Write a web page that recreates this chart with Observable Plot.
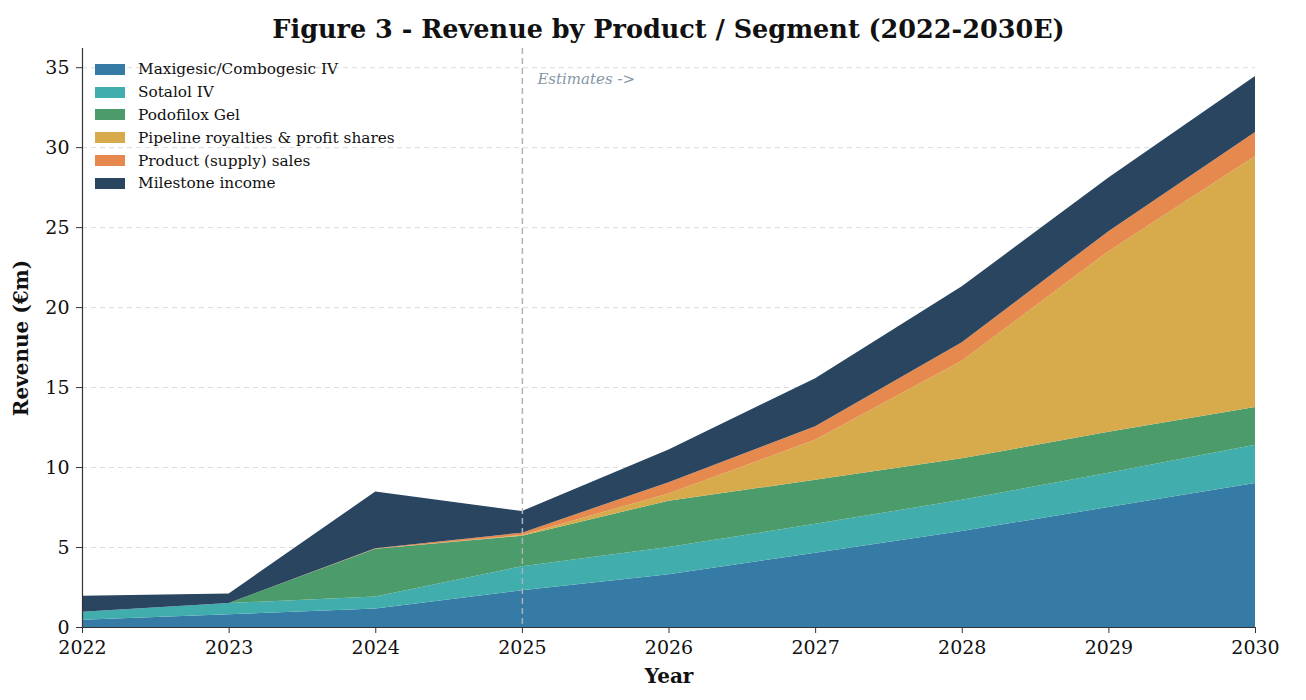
<!DOCTYPE html>
<html>
<head>
<meta charset="utf-8">
<script src="https://cdn.jsdelivr.net/npm/d3@7"></script>
<script src="https://cdn.jsdelivr.net/npm/@observablehq/plot@0.6"></script>
<style>
  html, body { margin: 0; padding: 0; background: #fff; }
  body { width: 1306px; height: 700px; position: relative; font-family: "DejaVu Serif", serif; overflow: hidden; }
  #title { height: 44px; box-sizing: border-box; padding-top: 14px; padding-left: 31px; text-align: center; font-size: 25.5px; line-height: 30px; font-weight: bold; color: #111; }
  #legend { position: absolute; left: 95px; top: 58px; font-size: 15.3px; color: #111; }
  #legend .row { height: 22.8px; display: flex; align-items: center; }
  #legend .sw { width: 30px; height: 11px; margin-right: 13px; }
  svg [aria-label="y-axis label"] text, svg [aria-label="x-axis label"] text { font-weight: bold; font-size: 20px; }
</style>
</head>
<body>
<div id="title">Figure 3 - Revenue by Product / Segment (2022-2030E)</div>
<div id="chart"></div>
<div id="legend"></div>
<script>
const years = [2022, 2023, 2024, 2025, 2026, 2027, 2028, 2029, 2030];
const seriesNames = ["Maxigesic/Combogesic IV", "Sotalol IV", "Podofilox Gel", "Pipeline royalties & profit shares", "Product (supply) sales", "Milestone income"];
const seriesColors = ["#367aa6", "#41aead", "#4c9b6b", "#d7ab4c", "#e5894e", "#2a4560"];
const maxigesic = [0.45, 0.8, 1.15, 2.3, 3.3, 4.65, 6.0, 7.5, 9.0];
const sotalol   = [0.5, 0.7, 0.75, 1.5, 1.7, 1.8, 1.95, 2.15, 2.4];
const podofilox = [0, 0, 3.0, 1.9, 2.9, 2.75, 2.6, 2.55, 2.35];
const pipeline  = [0, 0, 0, 0.05, 0.45, 2.5, 6.1, 11.3, 15.7];
const product   = [0, 0, 0.02, 0.15, 0.7, 0.85, 1.15, 1.25, 1.5];
const milestone = [1.0, 0.6, 3.55, 1.35, 2.05, 3.0, 3.5, 3.35, 3.5];
const yTicks = [0, 5, 10, 15, 20, 25, 30, 35];
const estimateYear = 2025;
const annotation = [{x: 2025, y: 34.3, text: "Estimates ->"}];

const seriesValues = [maxigesic, sotalol, podofilox, pipeline, product, milestone];
const data = [];
seriesNames.forEach((name, i) => {
  years.forEach((yr, j) => data.push({year: yr, series: name, value: seriesValues[i][j]}));
});

const chart = Plot.plot({
  width: 1306,
  height: 656,
  marginLeft: 82,
  marginRight: 51,
  marginTop: 4,
  marginBottom: 73,
  style: {fontFamily: "DejaVu Serif", fontSize: "19px", color: "#111", background: "#fff"},
  x: {domain: [2022, 2030]},
  y: {domain: [0, 36.2]},
  color: {domain: seriesNames, range: seriesColors},
  marks: [
    Plot.ruleY(yTicks.filter(d => d > 0), {stroke: "#dcdcdc", strokeWidth: 1, strokeDasharray: "5,4"}),
    Plot.areaY(data, {x: "year", y: "value", fill: "series", order: seriesNames}),
    Plot.ruleX([estimateYear], {stroke: "#aab3bb", strokeWidth: 1.5, strokeDasharray: "6,4"}),
    Plot.text(annotation, {x: "x", y: "y", text: "text", dx: 15, textAnchor: "start", fill: "#8796a5", fontStyle: "italic", fontSize: 15}),
    Plot.axisX({ticks: years, tickFormat: d => String(d), tickSize: 6, tickPadding: 7, label: "Year", labelAnchor: "center", labelArrow: "none", labelOffset: 55, stroke: "#333"}),
    Plot.axisY({ticks: yTicks, tickSize: 6, tickPadding: 7, label: "Revenue (€m)", labelAnchor: "center", labelArrow: "none", labelOffset: 69, stroke: "#333"}),
    Plot.ruleX([2022], {stroke: "#333", strokeWidth: 1.2}),
    Plot.ruleY([0], {stroke: "#333", strokeWidth: 1.2})
  ]
});
document.getElementById("chart").appendChild(chart);

const legend = document.getElementById("legend");
seriesNames.forEach((name, i) => {
  const row = document.createElement("div");
  row.className = "row";
  const sw = document.createElement("div");
  sw.className = "sw";
  sw.style.background = seriesColors[i];
  const label = document.createElement("span");
  label.textContent = name;
  row.appendChild(sw);
  row.appendChild(label);
  legend.appendChild(row);
});
</script>
</body>
</html>
